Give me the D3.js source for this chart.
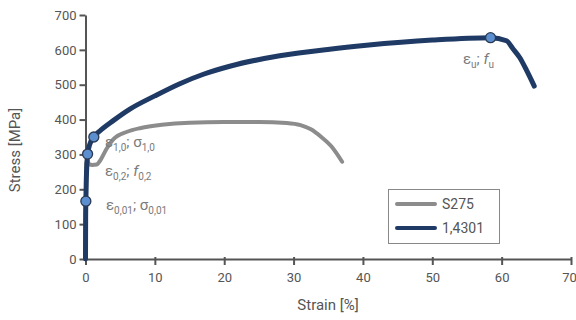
<!DOCTYPE html>
<html><head><meta charset="utf-8">
<script src="https://cdnjs.cloudflare.com/ajax/libs/d3/7.8.5/d3.min.js"></script>
<style>body{margin:0;background:#fff}svg{display:block;font-family:Roboto,"Noto Sans",sans-serif}</style>
</head><body><svg id="c" width="576" height="320"></svg>
<script>
const xTicks=[0,10,20,30,40,50,60,70];
const yTicks=[0,100,200,300,400,500,600,700];
const seriesNames=["S275","1,4301"];
const s275Strain=[0,0.1,0.25,0.5,1.0,1.6,2.2,3.0,4.0,6.0,8.0,11,15,20,25,29,31,32.5,34,35.5,37];
const s275Stress=[0,272,284,272,270,271,285,315,343,365,376,385,391,393,393,390,384,372,350,322,279];
const ssStrain=[0,0.02,0.06,0.12,0.2,0.3,0.6,1.2,2.1,4.0,6.4,10,13.6,17,20.8,28,35.2,40.5,50,58.4,60.7,61.6,62.6,63.6,64.7];
const ssStress=[0,120,175,230,272,301,328,350,368,397,430,468,503,530,553,583,602,613,628,635,626,604,578,541,496];
const markStrain=[0.05,0.3,1.2,58.4];
const markStress=[166,301,350,635];

const svg=d3.select("#c");
const x=d3.scaleLinear().domain([0,70]).range([85.5,571]);
const y=d3.scaleLinear().domain([0,700]).range([259,15]);
const axisCol="#555";

const gx=svg.append("g").attr("transform","translate(0,259)").call(d3.axisBottom(x).tickValues(xTicks).tickSize(6).tickSizeOuter(0));
const gy=svg.append("g").attr("transform","translate(85.5,0)").call(d3.axisLeft(y).tickValues(yTicks).tickSize(6).tickSizeOuter(0));
[gx,gy].forEach(g=>{
  g.select(".domain").attr("stroke",axisCol).attr("stroke-width",2);
  g.selectAll(".tick line").attr("stroke",axisCol).attr("stroke-width",2);
  g.selectAll(".tick text").attr("fill","#555").style("font-size","13px").style("font-family","Roboto,'Noto Sans',sans-serif");
});
gx.selectAll(".tick text").attr("dy","1.1em");
gx.selectAll(".tick text").filter(d=>d===70).attr("dx",-2);
gx.selectAll(".tick line").attr("y1",-2);

svg.append("text").attr("transform","translate(20,150) rotate(-90)").attr("text-anchor","middle")
  .attr("fill","#555").style("font-size","15px").text("Stress [MPa]");
svg.append("text").attr("x",328).attr("y",310).attr("text-anchor","middle")
  .attr("fill","#555").style("font-size","15px").text("Strain [%]");

const line=d3.line().x(d=>x(d[0])).y(d=>y(d[1])).curve(d3.curveMonotoneX);
svg.append("path").datum(s275Strain.map((v,i)=>[v,s275Stress[i]])).attr("d",line)
  .attr("fill","none").attr("stroke","#8c8c8c").attr("stroke-width",4).attr("stroke-linecap","round");
svg.append("path").datum(ssStrain.map((v,i)=>[v,ssStress[i]])).attr("d",line)
  .attr("fill","none").attr("stroke","#1f3a64").attr("stroke-width",5).attr("stroke-linecap","round");

svg.selectAll("circle.m").data(markStrain.map((v,i)=>[v,markStress[i]])).enter().append("circle")
  .attr("cx",d=>x(d[0])).attr("cy",d=>y(d[1])).attr("r",5)
  .attr("fill","#5b8fd0").attr("stroke","#2b3a52").attr("stroke-width",1.3);

function lbl(px,py,parts){
  const t=svg.append("text").attr("x",px).attr("y",py).attr("fill","#7a7a7a").style("font-size","15px");
  parts.forEach(p=>{
    const ts=t.append("tspan").text(p[0]);
    if(p[1]==="sub") ts.style("font-size","10px").attr("dy",4);
    if(p[1]==="up") ts.attr("dy",-4);
    if(p[2]) ts.style("font-style","italic");
  });
}
lbl(105,147,[["ε"],["1,0","sub"],[";","up"],[" σ"],["1,0","sub"]]);
lbl(105,176,[["ε"],["0,2","sub"],[";","up"],[" "],["f",null,true],["0,2","sub"]]);
lbl(106,210,[["ε"],["0,01","sub"],[";","up"],[" σ"],["0,01","sub"]]);
lbl(463,64,[["ε"],["u","sub"],[";","up"],[" "],["f",null,true],["u","sub"]]);

const lg=svg.append("g");
lg.append("rect").attr("x",388.5).attr("y",189.5).attr("width",111).attr("height",54)
  .attr("fill","#fff").attr("stroke","#888").attr("stroke-width",1);
const lgCols=["#8c8c8c","#1f3a64"];
seriesNames.forEach((n,i)=>{
  const yy=204+i*24;
  lg.append("line").attr("x1",397).attr("x2",435).attr("y1",yy).attr("y2",yy)
    .attr("stroke",lgCols[i]).attr("stroke-width",4).attr("stroke-linecap","round");
  lg.append("text").attr("x",442).attr("y",yy+5).attr("fill","#555").style("font-size","14px").text(n);
});
</script></body></html>
